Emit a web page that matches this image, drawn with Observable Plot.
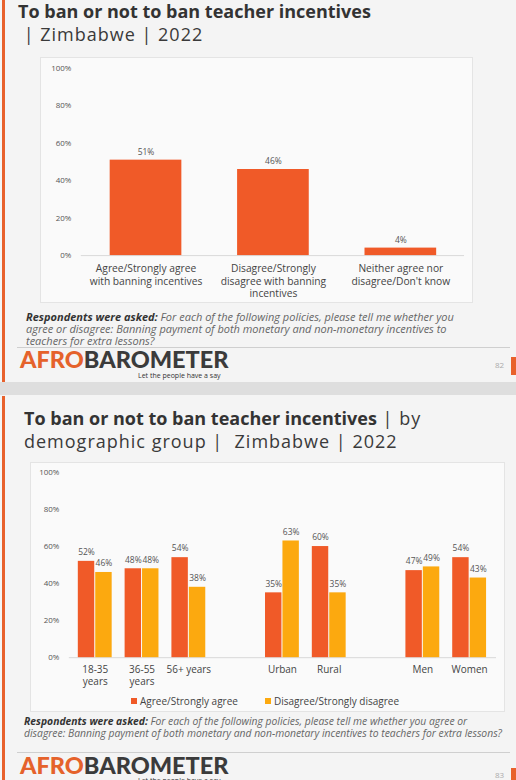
<!DOCTYPE html>
<html>
<head>
<meta charset="utf-8">
<script src="https://cdn.jsdelivr.net/npm/d3@7"></script>
<script src="https://cdn.jsdelivr.net/npm/@observablehq/plot@0.6"></script>
<style>
  html, body { margin: 0; padding: 0; }
  body { width: 516px; height: 780px; position: relative; overflow: hidden; background: #dedede; font-family: "Open Sans", Lato, sans-serif; }
  .slide { position: absolute; left: 0; width: 516px; background: #f4f4f4; }
  .vbar { position: absolute; left: 2px; width: 3px; background: #e8612c; }
  .title { position: absolute; font-size: 18px; line-height: 22.5px; color: #3a3a3a; white-space: nowrap; }
  .title b { font-weight: 700; color: #333; letter-spacing: 0; }
  .title .n { letter-spacing: 1px; }
  .box { position: absolute; background: #fafafa; border: 1px solid #e4e4e4; box-sizing: border-box; }
  .box svg { position: absolute; left: 0; top: 0; }
  .note { position: absolute; font-size: 10px; line-height: 12px; font-style: italic; color: #666; white-space: nowrap; }
  .note b { color: #333; font-weight: 700; }
  .sep { position: absolute; left: 17px; width: 493px; height: 1px; background: #cfcfcf; }
  .logo { position: absolute; font-family: Lato, sans-serif; font-weight: 900; font-size: 23.5px; line-height: 20px; color: #3b3b3b; white-space: nowrap; }
  .logo .o { color: #e5622b; }
  .tag { position: absolute; font-size: 7px; line-height: 8px; color: #333; white-space: nowrap; }
  .pg { position: absolute; font-size: 8px; color: #aaa; }
  .tab { position: absolute; left: 511px; width: 5px; background: #e8612c; }
  .legend { position: absolute; font-size: 10px; color: #444; white-space: nowrap; }
  .sw { display: inline-block; width: 6px; height: 6px; margin-right: 3px; vertical-align: 1px; }
</style>
</head>
<body>
<div class="slide" style="top:0;height:382px"></div>
<div class="slide" style="top:395px;height:385px"></div>
<div class="vbar" style="top:0;height:382px"></div>
<div class="vbar" style="top:396px;height:384px"></div>

<div class="title" style="left:18px;top:0px"><b>To ban or not to ban teacher incentives</b><br><span class="n">&nbsp;| Zimbabwe | 2022</span></div>
<div class="box" id="box1" style="left:40px;top:57px;width:433px;height:246px"></div>
<div class="note" style="left:26px;top:311px;font-size:11px"><b>Respondents were asked:</b> For each of the following policies, please tell me whether you<br>agree or disagree: Banning payment of both monetary and non-monetary incentives to<br>teachers for extra lessons?</div>
<div class="sep" style="top:347px"></div>
<div class="logo" style="left:20px;top:349px"><span class="o">AFRO</span>BAROMETER</div>
<div class="tag" style="left:138px;top:372px">Let the people have a say</div>
<div class="pg" style="left:495px;top:359px">82</div>
<div class="tab" style="top:357px;height:18px"></div>

<div class="title" style="left:24px;top:407px;line-height:23px"><b>To ban or not to ban teacher incentives</b><span class="n"> | by</span><br><span class="n">demographic group |&nbsp; Zimbabwe | 2022</span></div>
<div class="box" id="box2" style="left:30px;top:462px;width:475px;height:250px">
  <div class="legend" style="left:100px;top:231px"><span class="sw" style="background:#f05a28"></span>Agree/Strongly agree</div>
  <div class="legend" style="left:234px;top:231px"><span class="sw" style="background:#fca90f"></span>Disagree/Strongly disagree</div>
</div>
<div class="note" style="left:24px;top:716px;line-height:11.5px;font-size:10.35px"><b>Respondents were asked:</b> For each of the following policies, please tell me whether you agree or<br>disagree: Banning payment of both monetary and non-monetary incentives to teachers for extra lessons?</div>
<div class="sep" style="top:752px"></div>
<div class="logo" style="left:20px;top:755px"><span class="o">AFRO</span>BAROMETER</div>
<div class="tag" style="left:138px;top:777px">Let the people have a say</div>
<div class="pg" style="left:495px;top:769px">83</div>
<div class="tab" style="top:768px;height:12px"></div>

<script>
const RED = "#f05a28";
const YELLOW = "#fca90f";

// Chart 1 data
const categories1 = [
  "Agree/Strongly agree\nwith banning incentives",
  "Disagree/Strongly\ndisagree with banning\nincentives",
  "Neither agree nor\ndisagree/Don't know"
];
const values1 = [51, 46, 4];

// Chart 2 data
const groups2 = ["18-35\nyears", "36-55\nyears", "56+ years", "gap1", "Urban", "Rural", "gap2", "Men", "Women"];
const groupsWithData = ["18-35\nyears", "36-55\nyears", "56+ years", "Urban", "Rural", "Men", "Women"];
const agree2 = [52, 48, 54, 35, 60, 47, 54];
const disagree2 = [46, 48, 38, 63, 35, 49, 43];

const yTicks = [0, 20, 40, 60, 80, 100];

const data1 = categories1.map((c, i) => ({cat: c, value: values1[i]}));
const data2 = groupsWithData.map((g, i) => ({group: g, agree: agree2[i], disagree: disagree2[i]}));

const font = "'Open Sans', Lato, sans-serif";

const chart1 = Plot.plot({
  width: 433, height: 246,
  marginLeft: 40, marginRight: 8, marginTop: 10, marginBottom: 48,
  style: {background: "transparent", fontFamily: font, color: "#555", overflow: "visible"},
  x: {domain: categories1, paddingInner: 0.44, paddingOuter: 0.22, label: null},
  y: {domain: [0, 100], label: null},
  marks: [
    Plot.ruleY([0], {stroke: "#d9d9d9"}),
    Plot.barY(data1, {x: "cat", y: "value", fill: RED}),
    Plot.text(data1, {x: "cat", y: "value", text: d => d.value + "%", dy: -8, fontSize: 8.5, fill: "#555"}),
    Plot.axisY({ticks: yTicks, tickFormat: d => d + "%", tickSize: 0, tickPadding: 10, fontSize: 8, label: null}),
    Plot.axisX({tickSize: 0, tickPadding: 8, fontSize: 10.3, lineHeight: 1.2, fill: "#444", label: null})
  ]
});
document.getElementById("box1").appendChild(chart1);

const chart2 = Plot.plot({
  width: 475, height: 228,
  marginLeft: 38, marginRight: 8, marginTop: 9, marginBottom: 33,
  style: {background: "transparent", fontFamily: font, color: "#555", overflow: "visible"},
  x: {domain: groups2, paddingInner: 0.266, paddingOuter: 0.133, label: null},
  y: {domain: [0, 100], label: null},
  marks: [
    Plot.ruleY([0], {stroke: "#d9d9d9"}),
    Plot.barY(data2, {x: "group", y: "agree", fill: RED, insetRight: 17.5}),
    Plot.barY(data2, {x: "group", y: "disagree", fill: YELLOW, insetLeft: 17.5}),
    Plot.text(data2, {x: "group", y: "agree", text: d => d.agree + "%", dx: -8.75, dy: -9, fontSize: 8.5, fill: "#555"}),
    Plot.text(data2, {x: "group", y: "disagree", text: d => d.disagree + "%", dx: 8.75, dy: -9, fontSize: 8.5, fill: "#555"}),
    Plot.axisY({ticks: yTicks, tickFormat: d => d + "%", tickSize: 0, tickPadding: 10, fontSize: 8, label: null}),
    Plot.axisX({tickSize: 0, tickPadding: 7, fontSize: 10, lineHeight: 1.2, fill: "#444", label: null,
      tickFormat: d => d.startsWith("gap") ? "" : d})
  ]
});
document.getElementById("box2").insertBefore(chart2, document.getElementById("box2").firstChild);
</script>
</body>
</html>
